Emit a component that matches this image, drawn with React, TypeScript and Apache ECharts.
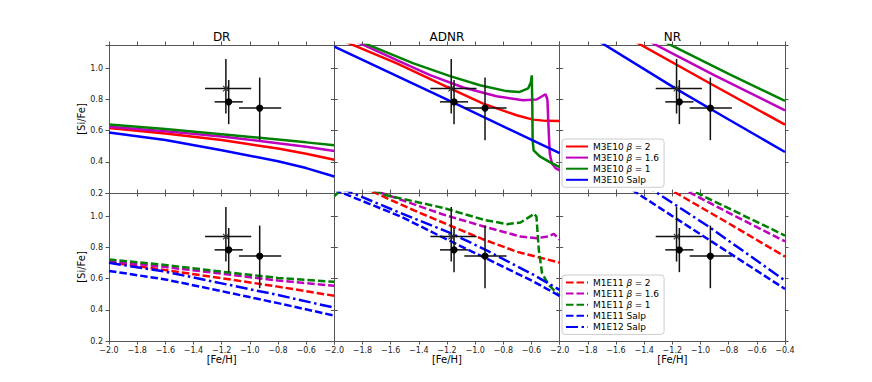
import React, { useEffect, useRef } from "react";
import * as echarts from "echarts";

// ---------- observations (same in every panel) ----------
const OBS_FEH = [-1.17, -1.15, -0.93];
const OBS_SIFE = [0.87, 0.785, 0.745];
const OBS_FEH_LO = [0.148, 0.1, 0.147];
const OBS_FEH_HI = [0.18, 0.1, 0.153];
const OBS_SIFE_LO = [0.16, 0.143, 0.206];
const OBS_SIFE_HI = [0.19, 0.14, 0.196];
const OBS_KIND = [0, 1, 1]; // 0 = cross, 1 = filled dot

// ---------- DR ----------
const DR_TOP_FEH = [-2.0, -1.6, -1.2, -0.8, -0.6, -0.4];
const DR_M3E10_B2 = [0.617, 0.582, 0.54, 0.485, 0.452, 0.414];
const DR_M3E10_B16 = [0.625, 0.597, 0.562, 0.52, 0.497, 0.47];
const DR_M3E10_B1 = [0.639, 0.611, 0.577, 0.543, 0.525, 0.506];
const DR_M3E10_SALP = [0.588, 0.54, 0.475, 0.404, 0.36, 0.306];

const DR_BOT_FEH = [-2.0, -1.6, -1.2, -0.8, -0.4];
const DR_M1E11_B2 = [0.706, 0.655, 0.603, 0.549, 0.49];
const DR_M1E11_B16 = [0.714, 0.675, 0.632, 0.588, 0.554];
const DR_M1E11_B1 = [0.723, 0.688, 0.645, 0.605, 0.58];
const DR_M1E11_SALP = [0.65, 0.595, 0.52, 0.443, 0.363];
const DR_M1E12_SALP = [0.702, 0.645, 0.57, 0.495, 0.414];

// ---------- ADNR ----------
const ADNR_M3E10_B2_FEH = [-1.92, -1.556, -1.178, -0.943, -0.706, -0.589, -0.5, -0.4];
const ADNR_M3E10_B2 = [1.17, 1.032, 0.871, 0.774, 0.699, 0.671, 0.663, 0.662];
const ADNR_M3E10_B16_FEH = [-1.84, -1.556, -1.32, -1.084, -0.848, -0.659, -0.564, -0.5, -0.487, -0.478, -0.47, -0.455, -0.43, -0.4];
const ADNR_M3E10_B16 = [1.17, 1.053, 0.957, 0.877, 0.821, 0.796, 0.8, 0.834, 0.8, 0.6, 0.45, 0.39, 0.36, 0.345];
const ADNR_M3E10_B1_FEH = [-1.81, -1.438, -1.178, -0.966, -0.777, -0.683, -0.624, -0.605, -0.598, -0.594, -0.592, -0.585, -0.541, -0.47, -0.4];
const ADNR_M3E10_B1 = [1.17, 1.032, 0.95, 0.892, 0.854, 0.849, 0.871, 0.91, 0.955, 0.75, 0.54, 0.474, 0.435, 0.398, 0.366];
const ADNR_M3E10_SALP_FEH = [-2.0, -1.15, -0.4];
const ADNR_M3E10_SALP = [1.14, 0.778, 0.456];

const ADNR_M1E11_B2_FEH = [-1.8, -1.72, -1.438, -1.21, -0.95, -0.7, -0.4];
const ADNR_M1E11_B2 = [1.19, 1.155, 1.04, 0.953, 0.855, 0.772, 0.703];
const ADNR_M1E11_B16_FEH = [-1.75, -1.528, -1.221, -0.938, -0.678, -0.56, -0.48, -0.442, -0.4];
const ADNR_M1E11_B16 = [1.177, 1.107, 1.01, 0.935, 0.871, 0.86, 0.872, 0.888, 0.85];
const ADNR_M1E11_B1_FEH = [-2.0, -1.97, -1.85, -1.7, -1.646, -1.221, -0.938, -0.772, -0.678, -0.6, -0.584, -0.565, -0.548, -0.525, -0.477, -0.4];
const ADNR_M1E11_B1 = [1.13, 1.155, 1.18, 1.16, 1.139, 1.053, 0.978, 0.95, 0.961, 1.005, 1.017, 0.999, 0.785, 0.635, 0.56, 0.489];
const ADNR_M1E11_SALP_FEH = [-2.0, -1.953, -1.528, -1.197, -0.926, -0.584, -0.4];
const ADNR_M1E11_SALP = [1.17, 1.154, 0.999, 0.85, 0.732, 0.581, 0.489];
const ADNR_M1E12_SALP_FEH = [-1.95, -1.882, -1.528, -1.174, -0.926, -0.584, -0.4];
const ADNR_M1E12_SALP = [1.18, 1.154, 1.021, 0.893, 0.785, 0.624, 0.528];

// ---------- NR ----------
const NR_M3E10_B2_FEH = [-1.5, -0.931, -0.4];
const NR_M3E10_B2 = [1.19, 0.903, 0.639];
const NR_M3E10_B16_FEH = [-1.4, -0.9, -0.4];
const NR_M3E10_B16 = [1.19, 0.955, 0.731];
const NR_M3E10_B1_FEH = [-1.3, -0.8, -0.4];
const NR_M3E10_B1 = [1.19, 0.965, 0.791];
const NR_M3E10_SALP_FEH = [-1.75, -1.167, -0.8, -0.4];
const NR_M3E10_SALP = [1.19, 0.865, 0.672, 0.463];

const NR_M1E11_B2_FEH = [-1.25, -0.8, -0.4];
const NR_M1E11_B2 = [1.19, 0.955, 0.742];
const NR_M1E11_B16_FEH = [-1.15, -0.75, -0.4];
const NR_M1E11_B16 = [1.187, 1.0, 0.839];
const NR_M1E11_B1_FEH = [-1.1, -0.75, -0.4];
const NR_M1E11_B1 = [1.183, 1.03, 0.877];
const NR_M1E11_SALP_FEH = [-1.55, -1.178, -0.4];
const NR_M1E11_SALP = [1.208, 0.989, 0.534];
const NR_M1E12_SALP_FEH = [-1.4, -0.943, -0.4];
const NR_M1E12_SALP = [1.205, 0.935, 0.588];

// ---------- labels ----------
const PANEL_TITLES = ["DR", "ADNR", "NR"];
const TOP_NAMES = ["M3E10 β = 2", "M3E10 β = 1.6", "M3E10 β = 1", "M3E10 Salp"];
const BOT_NAMES = ["M1E11 β = 2", "M1E11 β = 1.6", "M1E11 β = 1", "M1E11 Salp", "M1E12 Salp"];
const X_NAME = "[Fe/H]";
const Y_NAME = "[Si/Fe]";

// ---------- styles ----------
const RED = "#ff0000";
const MAG = "#bf00bf";
const GRN = "#008000";
const BLU = "#0000ff";
const SOLID = "solid";
const DASH = [7.5, 3];
const DASHDOT = [12, 3.5, 2.5, 3.5];
const FONT = "DejaVu Sans";
const AX = "#555555";

const GRID_LEFT = 109;
const GRID_TOP = 45;
const PANEL_W = 225.33;
const PANEL_H = 148;

const pairs = (xs: number[], ys: number[]) => xs.map((x, i) => [x, ys[i]]);

type Curve = { name: string; xs: number[]; ys: number[]; color: string; dash: any };

const PANELS: Curve[][] = [
  [
    { name: TOP_NAMES[0], xs: DR_TOP_FEH, ys: DR_M3E10_B2, color: RED, dash: SOLID },
    { name: TOP_NAMES[1], xs: DR_TOP_FEH, ys: DR_M3E10_B16, color: MAG, dash: SOLID },
    { name: TOP_NAMES[2], xs: DR_TOP_FEH, ys: DR_M3E10_B1, color: GRN, dash: SOLID },
    { name: TOP_NAMES[3], xs: DR_TOP_FEH, ys: DR_M3E10_SALP, color: BLU, dash: SOLID },
  ],
  [
    { name: TOP_NAMES[0], xs: ADNR_M3E10_B2_FEH, ys: ADNR_M3E10_B2, color: RED, dash: SOLID },
    { name: TOP_NAMES[1], xs: ADNR_M3E10_B16_FEH, ys: ADNR_M3E10_B16, color: MAG, dash: SOLID },
    { name: TOP_NAMES[2], xs: ADNR_M3E10_B1_FEH, ys: ADNR_M3E10_B1, color: GRN, dash: SOLID },
    { name: TOP_NAMES[3], xs: ADNR_M3E10_SALP_FEH, ys: ADNR_M3E10_SALP, color: BLU, dash: SOLID },
  ],
  [
    { name: TOP_NAMES[0], xs: NR_M3E10_B2_FEH, ys: NR_M3E10_B2, color: RED, dash: SOLID },
    { name: TOP_NAMES[1], xs: NR_M3E10_B16_FEH, ys: NR_M3E10_B16, color: MAG, dash: SOLID },
    { name: TOP_NAMES[2], xs: NR_M3E10_B1_FEH, ys: NR_M3E10_B1, color: GRN, dash: SOLID },
    { name: TOP_NAMES[3], xs: NR_M3E10_SALP_FEH, ys: NR_M3E10_SALP, color: BLU, dash: SOLID },
  ],
  [
    { name: BOT_NAMES[0], xs: DR_BOT_FEH, ys: DR_M1E11_B2, color: RED, dash: DASH },
    { name: BOT_NAMES[1], xs: DR_BOT_FEH, ys: DR_M1E11_B16, color: MAG, dash: DASH },
    { name: BOT_NAMES[2], xs: DR_BOT_FEH, ys: DR_M1E11_B1, color: GRN, dash: DASH },
    { name: BOT_NAMES[3], xs: DR_BOT_FEH, ys: DR_M1E11_SALP, color: BLU, dash: DASH },
    { name: BOT_NAMES[4], xs: DR_BOT_FEH, ys: DR_M1E12_SALP, color: BLU, dash: DASHDOT },
  ],
  [
    { name: BOT_NAMES[0], xs: ADNR_M1E11_B2_FEH, ys: ADNR_M1E11_B2, color: RED, dash: DASH },
    { name: BOT_NAMES[1], xs: ADNR_M1E11_B16_FEH, ys: ADNR_M1E11_B16, color: MAG, dash: DASH },
    { name: BOT_NAMES[2], xs: ADNR_M1E11_B1_FEH, ys: ADNR_M1E11_B1, color: GRN, dash: DASH },
    { name: BOT_NAMES[3], xs: ADNR_M1E11_SALP_FEH, ys: ADNR_M1E11_SALP, color: BLU, dash: DASH },
    { name: BOT_NAMES[4], xs: ADNR_M1E12_SALP_FEH, ys: ADNR_M1E12_SALP, color: BLU, dash: DASHDOT },
  ],
  [
    { name: BOT_NAMES[0], xs: NR_M1E11_B2_FEH, ys: NR_M1E11_B2, color: RED, dash: DASH },
    { name: BOT_NAMES[1], xs: NR_M1E11_B16_FEH, ys: NR_M1E11_B16, color: MAG, dash: DASH },
    { name: BOT_NAMES[2], xs: NR_M1E11_B1_FEH, ys: NR_M1E11_B1, color: GRN, dash: DASH },
    { name: BOT_NAMES[3], xs: NR_M1E11_SALP_FEH, ys: NR_M1E11_SALP, color: BLU, dash: DASH },
    { name: BOT_NAMES[4], xs: NR_M1E12_SALP_FEH, ys: NR_M1E12_SALP, color: BLU, dash: DASHDOT },
  ],
];

const fmtX = (v: number) => {
  const s = v.toFixed(1);
  return s.startsWith("-") ? "\u2212" + s.slice(1) : s;
};
const isStep = (v: number) => Math.abs(v * 5 - Math.round(v * 5)) < 1e-6;

function buildOption() {
  const grid: any[] = [];
  const xAxis: any[] = [];
  const yAxis: any[] = [];
  const series: any[] = [];
  const lineStyle = { color: AX, width: 1 };
  const tick = { show: true, length: 3.5, inside: false, lineStyle: { color: AX, width: 1 } };

  const obsData = OBS_FEH.map((x, k) => [x, OBS_SIFE[k], OBS_FEH_LO[k], OBS_FEH_HI[k], OBS_SIFE_LO[k], OBS_SIFE_HI[k], OBS_KIND[k]]);

  for (let i = 0; i < 6; i++) {
    const row = Math.floor(i / 3);
    const col = i % 3;
    grid.push({ left: GRID_LEFT + col * PANEL_W, top: GRID_TOP + row * PANEL_H, width: PANEL_W, height: PANEL_H, containLabel: false });
    xAxis.push({
      gridIndex: i, type: "value", position: "bottom", min: -2, max: -0.4, interval: 0.2,
      axisLine: { show: true, onZero: false, lineStyle }, axisTick: tick, splitLine: { show: false },
      axisLabel: {
        show: row === 1, margin: 5, fontSize: 8, fontFamily: FONT, color: "#222",
        formatter: (v: number) => (col < 2 && v > -0.45 ? "" : fmtX(v)),
      },
      name: row === 1 ? X_NAME : "", nameLocation: "middle", nameGap: 13,
      nameTextStyle: { fontSize: 10, fontFamily: FONT, color: "#000" },
    });
    xAxis.push({
      gridIndex: i, type: "value", position: "top", min: -2, max: -0.4, interval: 0.2,
      axisLine: { show: true, onZero: false, lineStyle }, axisTick: tick, splitLine: { show: false },
      axisLabel: { show: false },
    });
    yAxis.push({
      gridIndex: i, type: "value", position: "left", min: 0.2, max: 1.15, interval: 0.2,
      axisLine: { show: true, onZero: false, lineStyle }, axisTick: tick, splitLine: { show: false },
      axisLabel: {
        show: col === 0, margin: 6, fontSize: 8, fontFamily: FONT, color: "#222",
        formatter: (v: number) => (isStep(v) ? v.toFixed(1) : ""),
      },
      name: col === 0 ? Y_NAME : "", nameLocation: "middle", nameGap: 23,
      nameTextStyle: { fontSize: 10, fontFamily: FONT, color: "#000" },
    });
    yAxis.push({
      gridIndex: i, type: "value", position: "right", min: 0.2, max: 1.15, interval: 0.2,
      axisLine: { show: true, onZero: false, lineStyle }, axisTick: tick, splitLine: { show: false },
      axisLabel: { show: false },
    });

    for (const c of PANELS[i]) {
      series.push({
        type: "line", name: c.name, xAxisIndex: 2 * i, yAxisIndex: 2 * i,
        data: pairs(c.xs, c.ys), symbol: "none", showSymbol: false, clip: true, silent: true, z: 2,
        lineStyle: { color: c.color, width: 2.5, type: c.dash },
        itemStyle: { color: c.color },
      });
    }

    series.push({
      type: "custom", xAxisIndex: 2 * i, yAxisIndex: 2 * i, data: obsData, z: 10, silent: true,
      encode: { x: 0, y: 1 },
      renderItem: (params: any, api: any) => {
        const x = api.value(0), y = api.value(1);
        const c = api.coord([x, y]);
        const l = api.coord([x - api.value(2), y]);
        const r = api.coord([x + api.value(3), y]);
        const b = api.coord([x, y - api.value(4)]);
        const t = api.coord([x, y + api.value(5)]);
        const st = { stroke: "#111", lineWidth: 1.5 };
        const children: any[] = [
          { type: "line", shape: { x1: l[0], y1: l[1], x2: r[0], y2: r[1] }, style: st },
          { type: "line", shape: { x1: b[0], y1: b[1], x2: t[0], y2: t[1] }, style: st },
        ];
        if (api.value(6) === 1) {
          children.push({ type: "circle", shape: { cx: c[0], cy: c[1], r: 3.6 }, style: { fill: "#000" } });
        } else {
          const d = 2.8;
          const xs = { stroke: "#333", lineWidth: 1.1 };
          children.push({ type: "line", shape: { x1: c[0] - d, y1: c[1] - d, x2: c[0] + d, y2: c[1] + d }, style: xs });
          children.push({ type: "line", shape: { x1: c[0] - d, y1: c[1] + d, x2: c[0] + d, y2: c[1] - d }, style: xs });
        }
        return { type: "group", children };
      },
    });
  }

  const legendCommon = {
    orient: "vertical", left: 562, backgroundColor: "rgba(255,255,255,0.85)",
    borderColor: "#cccccc", borderWidth: 1, borderRadius: 3, padding: [3, 5, 3, 3],
    itemWidth: 22, itemHeight: 9, itemGap: 2.1, selectedMode: false,
    itemStyle: { color: "rgba(0,0,0,0)", borderWidth: 0, opacity: 0 },
    formatter: (n: string) => n.replace(/β = (.*)$/, "{b|β}{e|=}$1"),
    textStyle: {
      fontSize: 9, fontFamily: FONT, color: "#000",
      rich: {
        b: { fontSize: 9, fontFamily: FONT, fontStyle: "italic", color: "#000" },
        e: { fontSize: 9, fontFamily: FONT, color: "#000", padding: [0, 2.5, 0, 2.5] },
      },
    },
  };

  const graphic = PANEL_TITLES.map((t, k) => ({
    type: "text", x: GRID_LEFT + k * PANEL_W + PANEL_W / 2, y: 37, silent: true,
    style: { text: t, fontSize: 12, fontFamily: FONT, fill: "#000", align: "center", verticalAlign: "middle" },
  }));

  return {
    animation: false,
    backgroundColor: "#ffffff",
    grid, xAxis, yAxis, series, graphic,
    legend: [
      { ...legendCommon, top: 139, data: TOP_NAMES },
      { ...legendCommon, top: 275, data: BOT_NAMES },
    ],
  };
}

export default function App() {
  const ref = useRef<HTMLDivElement>(null);
  useEffect(() => {
    if (!ref.current) return;
    const chart = echarts.init(ref.current, undefined, { renderer: "svg" });
    chart.setOption(buildOption() as any);
    return () => chart.dispose();
  }, []);
  return <div ref={ref} style={{ position: "fixed", left: 0, top: 0, width: 872, height: 382, background: "#fff" }} />;
}
